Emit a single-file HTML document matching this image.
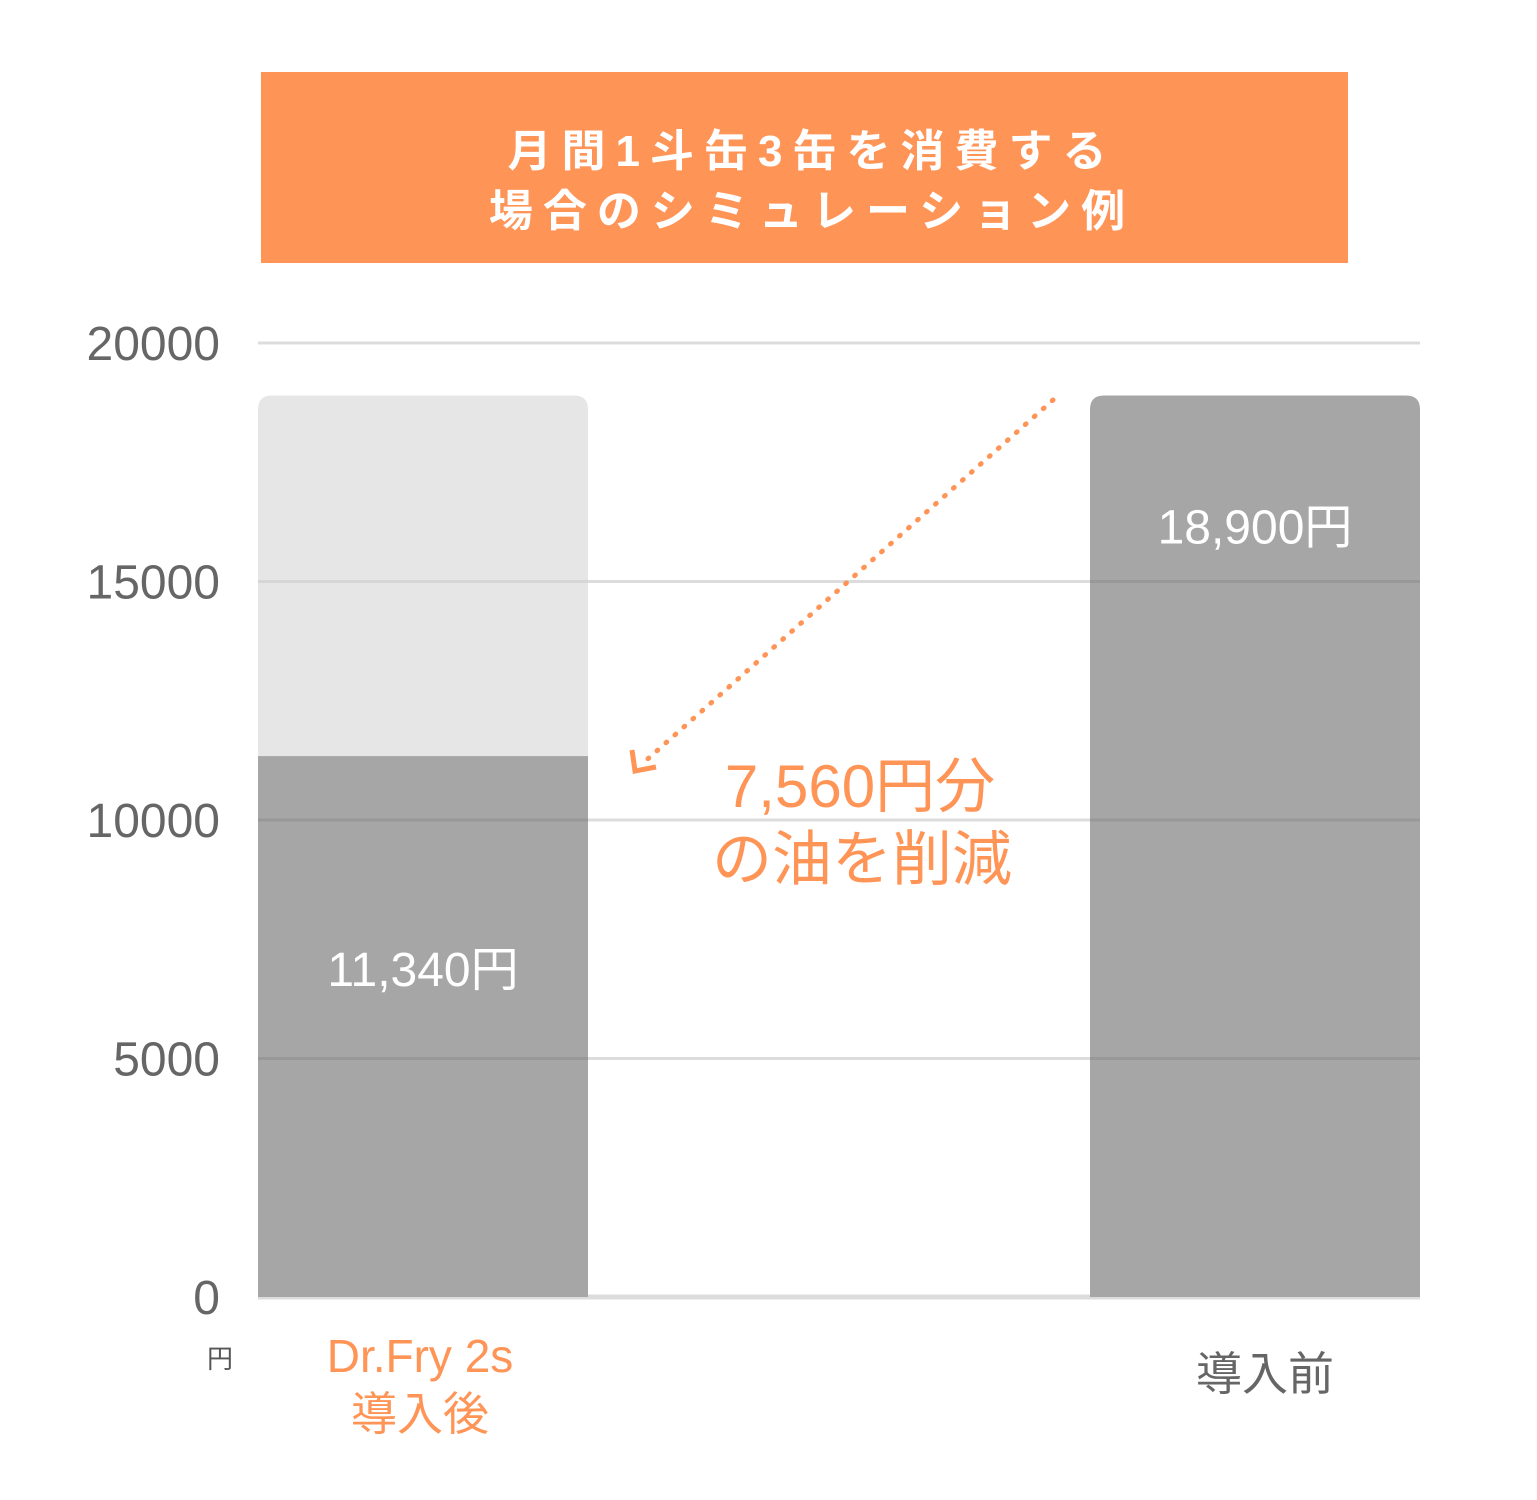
<!DOCTYPE html>
<html><head><meta charset="utf-8"><style>
body{margin:0;background:#fff;}
svg{display:block;font-family:"Liberation Sans","Noto Sans CJK JP",sans-serif;}
</style></head><body>
<svg id="chart" width="1537" height="1500">
<rect x="261" y="72" width="1087" height="191" fill="#FF9457"/>
<text x="812" y="166" text-anchor="middle" fill="#fff" font-size="44" font-weight="bold" letter-spacing="10">月間1斗缶3缶を消費する</text>
<text x="812" y="226" text-anchor="middle" fill="#fff" font-size="44" font-weight="bold" letter-spacing="10">場合のシミュレーション例</text>
<g id="grid"></g>
<g id="bars"></g>
<g id="gridover"></g>
<line x1="1053" y1="400" x2="642" y2="764" stroke="#FF9457" stroke-width="5" stroke-dasharray="1 11" stroke-linecap="round"/>
<polyline points="632,750 635,771 656,767" fill="none" stroke="#FF9457" stroke-width="5"/>
<text x="860" y="807" text-anchor="middle" fill="#FF9457" font-size="60">7,560円分</text>
<text x="862" y="880" text-anchor="middle" fill="#FF9457" font-size="60">の油を削減</text>
<text x="220" y="1368" text-anchor="middle" fill="#555" font-size="26">円</text>
<text x="420" y="1372" text-anchor="middle" fill="#FF9457" font-size="46">Dr.Fry 2s</text>
<text x="420" y="1430" text-anchor="middle" fill="#FF9457" font-size="46">導入後</text>
<text x="1265" y="1390" text-anchor="middle" fill="#666" font-size="46">導入前</text>
</svg>
<script>
const ticks=[0,5000,10000,15000,20000];
const categories=["導入後","導入前"];
const values=[11340,18900];
const ghost=[18900,null];
const labels=["11,340円","18,900円"];
const NS="http://www.w3.org/2000/svg";
const y0=1297,ppu=(1297-343)/20000;
function y(v){return y0-v*ppu;}
const xs=[258,1090],bw=330;
function mk(t,a,p){const e=document.createElementNS(NS,t);for(const k in a)e.setAttribute(k,a[k]);p.appendChild(e);return e;}
const grid=document.getElementById('grid'),bars=document.getElementById('bars'),go=document.getElementById('gridover');
ticks.forEach(t=>{
 const l=mk('line',{x1:258,x2:1420,y1:y(t),y2:y(t),stroke:'#dcdcdc','stroke-width':t===0?5:3},grid);
 
 
 const tx=mk('text',{x:220,y:y(t)+17,'text-anchor':'end',fill:'#666','font-size':48},grid);
 tx.textContent=t;
 
 
});
values.forEach((v,i)=>{
 if(ghost[i]!=null){
  const g=mk('path',{d:`M${xs[i]},${y(v)} V${y(ghost[i])+14} q0,-14 14,-14 H${xs[i]+bw-14} q14,0 14,14 V${y(v)} Z`,fill:'#e6e6e6'},bars);
  
  
  ticks.forEach(t=>{if(t>v&&t<ghost[i]){const l=mk('line',{x1:xs[i],x2:xs[i]+bw,y1:y(t),y2:y(t),stroke:'#d6d6d6','stroke-width':3},bars);
   
   }});
  const b=mk('rect',{x:xs[i],y:y(v),width:bw,height:y0-y(v),fill:'#a6a6a6'},bars);
  
  
 } else {
  const b=mk('path',{d:`M${xs[i]},${y0} V${y(v)+14} q0,-14 14,-14 H${xs[i]+bw-14} q14,0 14,14 V${y0} Z`,fill:'#a6a6a6'},bars);
  
  
 }
 const lt=mk('text',{x:xs[i]+bw/2,y:i===0?y(v)+230:y(v)+148,'text-anchor':'middle',fill:'#fff','font-size':48},bars);
 lt.textContent=labels[i];
 
 
 ticks.forEach(t=>{if(t>0&&t<v){const l=mk('line',{x1:xs[i],x2:xs[i]+bw,y1:y(t),y2:y(t),stroke:'#989898','stroke-width':3},go);
  
  }});
});
</script>
</body></html>
